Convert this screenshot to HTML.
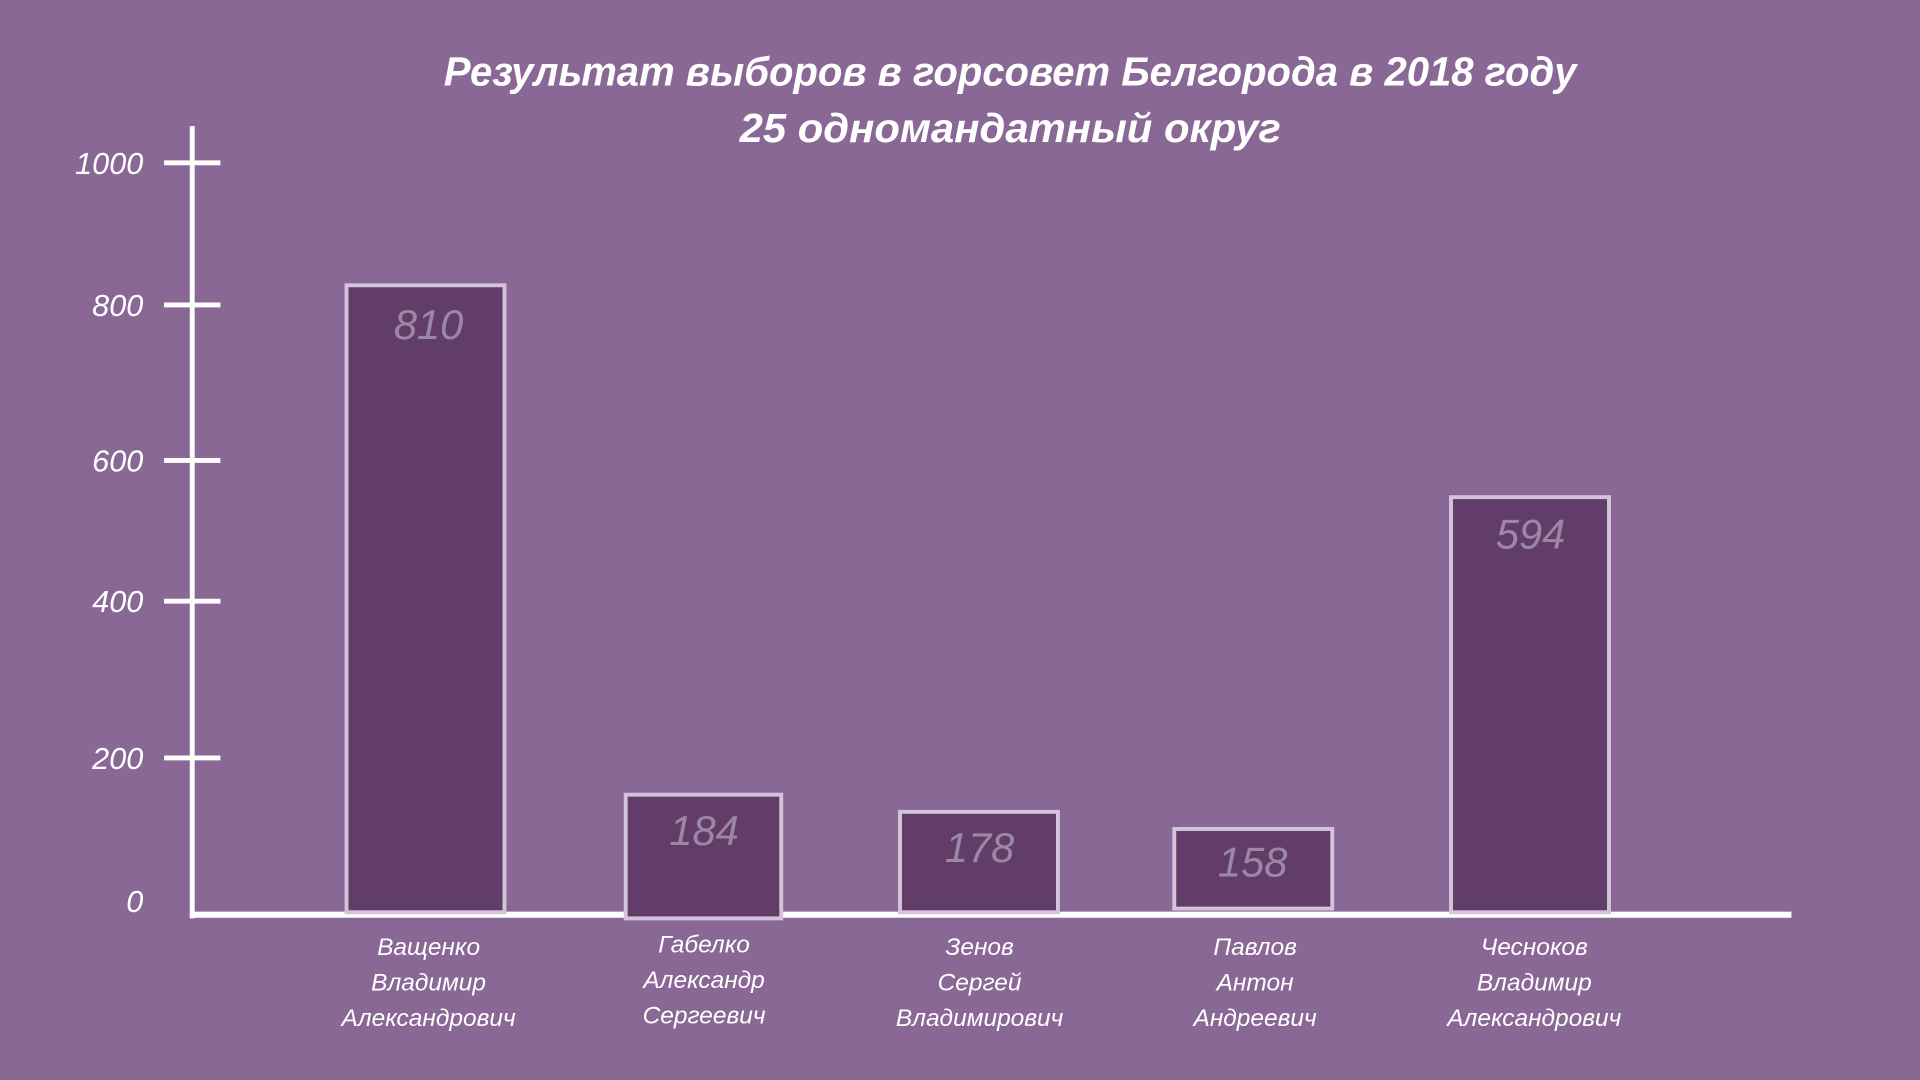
<!DOCTYPE html>
<html><head><meta charset="utf-8"><style>
html,body{margin:0;padding:0;background:#8a6896;}
svg{display:block}
text{font-family:"Liberation Sans","DejaVu Sans",sans-serif;font-style:italic;}
</style></head><body>
<svg width="1920" height="1080" viewBox="0 0 1568 882" xmlns="http://www.w3.org/2000/svg">
<rect width="1568" height="882" fill="#8a6896"/>
<g fill="#ffffff" font-size="33" text-anchor="middle" font-weight="bold">
<text x="825" y="70" textLength="925" lengthAdjust="spacingAndGlyphs">Результат выборов в горсовет Белгорода в 2018 году</text>
<text x="825" y="116" textLength="442" lengthAdjust="spacingAndGlyphs">25 одномандатный округ</text>
</g>
<g stroke="#ffffff" stroke-width="4">
<line x1="157" y1="103" x2="157" y2="750"/>
<line x1="134" y1="133" x2="180" y2="133"/>
<line x1="134" y1="249" x2="180" y2="249"/>
<line x1="134" y1="376" x2="180" y2="376"/>
<line x1="134" y1="491" x2="180" y2="491"/>
<line x1="134" y1="619" x2="180" y2="619"/>
</g>
<line x1="155" y1="747" x2="1463" y2="747" stroke="#ffffff" stroke-width="5"/>
<g fill="#ffffff" font-size="25" text-anchor="end">
<text x="117" y="142">1000</text>
<text x="117" y="258">800</text>
<text x="117" y="385">600</text>
<text x="117" y="500">400</text>
<text x="117" y="628">200</text>
<text x="117" y="745">0</text>
</g>
<g fill="#633d69" stroke="#d3c3db" stroke-width="3.2">
<rect x="283" y="233" width="129" height="512"/>
<rect x="511" y="649" width="127" height="101"/>
<rect x="735" y="663" width="129" height="82"/>
<rect x="959" y="677" width="129" height="65"/>
<rect x="1185" y="406" width="129" height="339"/>
</g>
<g fill="#9c88a4" font-size="34" text-anchor="middle">
<text x="350" y="277">810</text>
<text x="575" y="690">184</text>
<text x="800" y="704">178</text>
<text x="1023" y="716">158</text>
<text x="1250" y="448">594</text>
</g>
<g fill="#ffffff" font-size="20" text-anchor="middle">
<text x="350" y="780">Ващенко</text><text x="350" y="809">Владимир</text><text x="350" y="838">Александрович</text>
<text x="575" y="778">Габелко</text><text x="575" y="807">Александр</text><text x="575" y="836">Сергеевич</text>
<text x="800" y="780">Зенов</text><text x="800" y="809">Сергей</text><text x="800" y="838">Владимирович</text>
<text x="1025" y="780">Павлов</text><text x="1025" y="809">Антон</text><text x="1025" y="838">Андреевич</text>
<text x="1253" y="780">Чесноков</text><text x="1253" y="809">Владимир</text><text x="1253" y="838">Александрович</text>
</g>
</svg>
</body></html>
